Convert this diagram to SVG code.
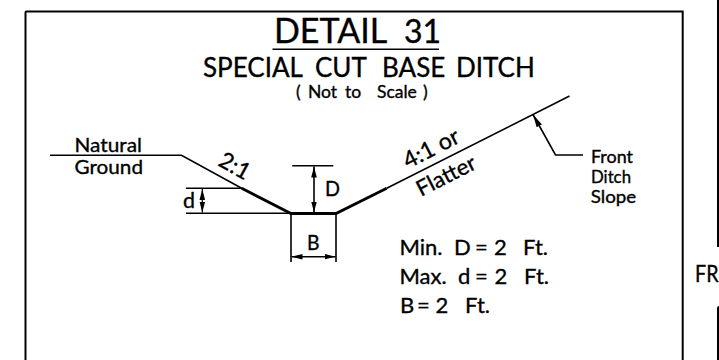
<svg xmlns="http://www.w3.org/2000/svg" width="719" height="360" viewBox="0 0 719 360">
<style>
text{font-family:"Lato","Liberation Sans",sans-serif;fill:#000;stroke:#000;stroke-width:.35}
.l{fill:none;stroke:#000;stroke-width:1.6}
.t{fill:none;stroke:#000;stroke-width:2.8}
.f{fill:none;stroke:#000;stroke-width:2}
.a{marker-start:url(#ah);marker-end:url(#ah)}
</style>
<defs>
<marker id="ah" markerUnits="userSpaceOnUse" markerWidth="12" markerHeight="8" refX="11" refY="4" orient="auto-start-reverse"><path d="M0 1.2L11 4L0 6.8Z" fill="#000"/></marker>
<marker id="ah2" markerUnits="userSpaceOnUse" markerWidth="14" markerHeight="8" refX="13" refY="4" orient="auto"><path d="M0 1L13 4L0 7Z" fill="#000"/></marker>
</defs>
<rect width="719" height="360" fill="#fff"/>
<g id="frame">
<path class="f" d="M25.5 360V12.5Q25.5 11.5 26.5 11.5H682.7V360"/>
<path class="f" d="M718 0V247M719 307Q718 307 718 309V360"/>
</g>
<g id="title">
<text y="42.7" font-size="34"><tspan x="274">DETAIL</tspan> <tspan x="404" font-size="32">31</tspan></text>
<path class="l" d="M272.5 49.2H439"/>
<text y="76.5" font-size="26"><tspan x="203">SPECIAL</tspan> <tspan x="315">CUT</tspan> <tspan x="382">BASE</tspan> <tspan x="456">DITCH</tspan></text>
<text y="98" font-size="17.5"><tspan x="296">(</tspan> <tspan x="308">Not</tspan> <tspan x="345">to</tspan> <tspan x="377">Scale</tspan><tspan x="423">)</tspan></text>
</g>
<g id="connectors">
<path class="l" d="M50 155.3H181.5L241.7 188.3"/>
<path class="t" d="M241.7 188.3L291 213.5H336L386.7 188.3"/>
<path class="l" d="M386.7 188.3L569.5 96"/>
<path class="l" d="M291 213.5V262M336 213.5V262"/>
<path class="l a" d="M291.5 256.7H335.5"/>
<path class="l" d="M292.3 165.7H333.3"/>
<path class="l a" d="M314 166.5V212.5"/>
<path class="l" d="M186 188.3H241.7M186 213.3H291"/>
<path class="l a" style="stroke-width:1.2" d="M202.3 189V212.6"/>
<path class="l" style="marker-end:url(#ah2)" d="M583 155H555.5L533 114.5"/>
</g>
<g id="labels">
<text x="74.5" y="151.7" font-size="20" textLength="67.5" lengthAdjust="spacingAndGlyphs">Natural</text>
<text x="74.5" y="174" font-size="20" textLength="68.5" lengthAdjust="spacingAndGlyphs">Ground</text>
<text transform="translate(217 165) rotate(29)" font-size="23" textLength="32" lengthAdjust="spacingAndGlyphs">2:1</text>
<text transform="translate(408 169) rotate(-27)" font-size="23" textLength="60" lengthAdjust="spacingAndGlyphs">4:1 or</text>
<text transform="translate(421 197) rotate(-27)" font-size="22" textLength="64" lengthAdjust="spacingAndGlyphs">Flatter</text>
<text x="325" y="195.7" font-size="21" textLength="15" lengthAdjust="spacingAndGlyphs">D</text>
<text x="183" y="208" font-size="22" textLength="12" lengthAdjust="spacingAndGlyphs">d</text>
<text x="307" y="250" font-size="21" textLength="12.5" lengthAdjust="spacingAndGlyphs">B</text>
<text x="591" y="162.7" font-size="17.5" textLength="42" lengthAdjust="spacingAndGlyphs">Front</text>
<text x="591" y="183" font-size="17.5" textLength="40" lengthAdjust="spacingAndGlyphs">Ditch</text>
<text x="590.7" y="203" font-size="17.5" textLength="45.5" lengthAdjust="spacingAndGlyphs">Slope</text>
<text y="255" font-size="22"><tspan x="399.5">Min.</tspan> <tspan x="454">D</tspan><tspan x="475">=</tspan><tspan x="494">2</tspan> <tspan x="523">Ft.</tspan></text>
<text y="284" font-size="22"><tspan x="399.5">Max.</tspan> <tspan x="458">d</tspan><tspan x="475">=</tspan><tspan x="494.5">2</tspan> <tspan x="524">Ft.</tspan></text>
<text y="313" font-size="22"><tspan x="400">B</tspan><tspan x="417">=</tspan><tspan x="435.5">2</tspan> <tspan x="465">Ft.</tspan></text>
<text x="695" y="281.7" font-size="23" textLength="23.5" lengthAdjust="spacingAndGlyphs">FR</text>
</g>
</svg>
